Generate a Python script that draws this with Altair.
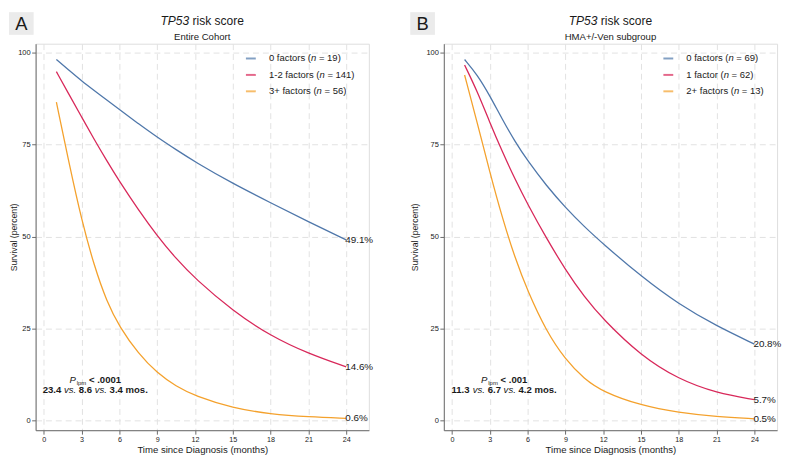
import altair as alt
import pandas as pd

FONT = "Liberation Sans"
INK = "#1a1a1a"

# ---------------- data ----------------
months = [1, 2, 3, 4, 5, 6, 7.5, 9, 10.5, 12, 15, 18, 21, 24]

a_groups = ["0 factors", "1-2 factors", "3+ factors"]
a_n = [19, 141, 56]
a_surv_0 = [98.1, 95.2, 92.3, 89.7, 87.1, 84.5, 80.7, 77.0, 73.6, 70.3, 64.4, 59.2, 54.0, 49.1]
a_surv_1 = [94.8, 88.6, 82.5, 76.4, 70.6, 65.0, 57.3, 50.2, 44.0, 38.6, 29.8, 23.0, 18.2, 14.6]
a_surv_2 = [86.5, 70.0, 54.5, 42.0, 32.3, 25.5, 18.2, 12.9, 9.3, 6.7, 3.4, 1.8, 1.0, 0.6]

b_groups = ["0 factors", "1 factor", "2+ factors"]
b_n = [69, 62, 13]
b_surv_0 = [98.1, 94.0, 88.3, 81.8, 75.8, 70.6, 63.8, 57.9, 52.7, 48.0, 39.2, 31.6, 25.7, 20.8]
b_surv_1 = [96.6, 89.5, 81.0, 73.0, 65.6, 58.8, 49.5, 41.0, 33.6, 27.5, 17.6, 11.2, 7.5, 5.7]
b_surv_2 = [93.9, 81.0, 67.5, 55.0, 44.2, 35.2, 24.2, 16.6, 11.3, 7.8, 4.1, 2.2, 1.1, 0.5]

x_ticks = [0, 3, 6, 9, 12, 15, 18, 21, 24]
y_ticks = [0, 25, 50, 75, 100]

a_pval = "< .0001"
a_medians = ["23.4", "8.6", "3.4"]
b_pval = "< .001"
b_medians = ["11.3", "6.7", "4.2"]

line_colors = ["#4f77aa", "#d8285a", "#f4a12c"]

# ---------------- layout constants ----------------
W, H = 338, 392
X_DOMAIN = [-0.65, 25.8]
Y_DOMAIN = [-2.6, 102.4]

# Arial / Liberation Sans advance widths (per 1000 em)
REG = {' ': 278, '(': 333, ')': 333, '+': 584, '-': 333, '.': 278, '/': 278, '<': 584,
       '=': 584, '%': 889, 'A': 667, 'B': 667, 'C': 722, 'D': 722, 'E': 667, 'H': 722,
       'M': 833, 'P': 667, 'T': 611, 'V': 667, 'a': 556, 'b': 556, 'c': 500, 'd': 556,
       'e': 556, 'f': 278, 'g': 556, 'h': 556, 'i': 222, 'k': 500, 'l': 222, 'm': 833,
       'n': 556, 'o': 556, 'p': 556, 'r': 333, 's': 500, 't': 278, 'u': 556, 'v': 500}
BOLD = {' ': 278, '.': 278, '<': 584, 'm': 889, 'o': 611, 's': 556, 'v': 556, 'P': 667}


def tw(s, size, bold=False):
    tot = 0
    for ch in s:
        if ch.isdigit():
            tot += 556
        elif bold and ch in BOLD:
            tot += BOLD[ch]
        else:
            tot += REG.get(ch, 556)
    return tot * size / 1000.0


DUMMY = pd.DataFrame({"d": [0]})


def txt(s, x, y, size, style="normal", weight="normal", baseline="alphabetic",
        align="left", color=INK):
    return alt.Chart(DUMMY).mark_text(
        text=s, align=align, baseline=baseline, fontSize=size, fontStyle=style,
        fontWeight=weight, font=FONT, color=color
    ).encode(x=alt.value(x), y=alt.value(y))


def panel(letter, subtitle, groups, ns, series, pval, medians,
          box_x, ytitle_x, leg_line_x, leg_text_x, p_cx):
    rows = []
    for g, c, vals in zip(groups, line_colors, series):
        for m, v in zip(months, vals):
            rows.append({"month": m, "surv": v, "group": g, "col": c})
    df = pd.DataFrame(rows)

    xs = alt.Scale(domain=X_DOMAIN, nice=False, zero=False)
    ys = alt.Scale(domain=Y_DOMAIN, nice=False, zero=False)

    lines = alt.Chart(df).mark_line(interpolate="basis", strokeWidth=1.3).encode(
        x=alt.X("month:Q", scale=xs, axis=alt.Axis(
            values=x_ticks, title="Time since Diagnosis (months)", grid=True,
            gridDash=[6, 4], gridColor="#e2e2e2", gridWidth=1,
            domainColor="#6a6a6a", tickColor="#6a6a6a", tickSize=4, labelPadding=1,
            labelFontSize=7.3, labelFont=FONT, labelColor=INK,
            titleFont=FONT, titleFontSize=9.7, titleFontWeight="normal", titleColor=INK,
            titleX=W / 2, titleY=23, titleBaseline="alphabetic", titleAlign="center")),
        y=alt.Y("surv:Q", scale=ys, axis=alt.Axis(
            values=y_ticks, title="Survival (percent)", grid=True,
            gridDash=[6, 4], gridColor="#e2e2e2", gridWidth=1,
            domainColor="#6a6a6a", tickColor="#6a6a6a", tickSize=4, labelPadding=1.5,
            labelFontSize=7.6, labelFont=FONT, labelColor=INK, labelAngle=0,
            titleFont=FONT, titleFontSize=8.8, titleFontWeight="normal", titleColor=INK,
            titleAngle=270, titleX=ytitle_x, titleY=H / 2, titleBaseline="bottom",
            titleAlign="center")),
        color=alt.Color("col:N", scale=None),
        detail="group:N",
    )

    ends = pd.DataFrame({
        "month": [months[-1]] * len(groups),
        "surv": [s[-1] for s in series],
        "label": [f"{s[-1]:.1f}%" for s in series],
    })
    end_text = alt.Chart(ends).mark_text(
        align="left", baseline="middle", fontSize=10, font=FONT, color=INK, dx=-1
    ).encode(x=alt.X("month:Q", scale=xs), y=alt.Y("surv:Q", scale=ys), text="label:N")

    layers = [lines, end_text]

    # panel letter box
    layers.append(alt.Chart(DUMMY).mark_rect(color="#ebebeb").encode(
        x=alt.value(box_x), x2=alt.value(box_x + 25), y=alt.value(-32), y2=alt.value(-9)))
    layers.append(txt(letter, box_x + 12.5, -13.7, 18.6, align="center"))

    # title: italic TP53 + " risk score"
    tsize = 12.2
    full = tw("TP53 risk score", tsize)
    left = W / 2 - full / 2
    layers.append(txt("TP53", left, -18.5, tsize, style="italic"))
    layers.append(txt("risk score", left + tw("TP53 ", tsize), -18.5, tsize))
    layers.append(txt(subtitle, W / 2, -3.3, 9.7, align="center"))

    # legend
    lsize = 9.6
    for i, (g, n, c) in enumerate(zip(groups, ns, line_colors)):
        yy = 15 + 16.65 * i
        layers.append(alt.Chart(DUMMY).mark_rule(color=c, strokeWidth=2, opacity=0.7).encode(
            x=alt.value(leg_line_x), x2=alt.value(leg_line_x + 10), y=alt.value(yy)))
        p1 = f"{g} ("
        layers.append(txt(p1, leg_text_x, yy, lsize, baseline="middle"))
        xn = leg_text_x + tw(p1, lsize)
        layers.append(txt("n", xn, yy, lsize, style="italic", baseline="middle"))
        xr = xn + tw("n ", lsize)
        layers.append(txt(f"= {n})", xr, yy, lsize, baseline="middle"))

    # p-value annotation
    ps = 9.7
    ss = 6.0
    gap = 1.0
    w1 = tw("P", ps) + gap + tw("lpm", ss) + tw(" ", ps) + tw(pval, ps, bold=True)
    x0 = p_cx - w1 / 2
    y1 = 344.5
    layers.append(txt("P", x0, y1, ps, style="italic"))
    x0 += tw("P", ps) + gap
    layers.append(txt("lpm", x0, y1 + 1.8, ss))
    x0 += tw("lpm", ss) + tw(" ", ps)
    layers.append(txt(pval, x0, y1, ps, weight="bold"))

    y2 = 354.5
    segs = [(medians[0], "b"), (" ", "s"), ("vs.", "i"), (" ", "s"), (medians[1], "b"),
            (" ", "s"), ("vs.", "i"), (" ", "s"), (medians[2] + " mos.", "b")]
    w2 = sum(tw(s, ps, bold=(k == "b")) for s, k in segs)
    x0 = p_cx - w2 / 2
    for s, k in segs:
        if k == "b":
            layers.append(txt(s, x0, y2, ps, weight="bold"))
        elif k == "i":
            layers.append(txt(s, x0, y2, ps, style="italic"))
        x0 += tw(s, ps, bold=(k == "b"))

    return alt.layer(*layers).properties(width=W, height=H)


pA = panel("A", "Entire Cohort", a_groups, a_n, [a_surv_0, a_surv_1, a_surv_2],
           a_pval, a_medians, box_x=-27, ytitle_x=-17, leg_line_x=213.3,
           leg_text_x=236.7, p_cx=60.5)
pB = panel("B", "HMA+/-Ven subgroup", b_groups, b_n, [b_surv_0, b_surv_1, b_surv_2],
           b_pval, b_medians, box_x=-34, ytitle_x=-24.3, leg_line_x=222.7,
           leg_text_x=246, p_cx=61.2)

chart = alt.hconcat(pA, pB, spacing=76, bounds="flush").properties(
    padding=0
).configure_view(stroke=None).configure(background="white")

chart.save("out.html", embed_options={"renderer": "svg", "actions": False})
